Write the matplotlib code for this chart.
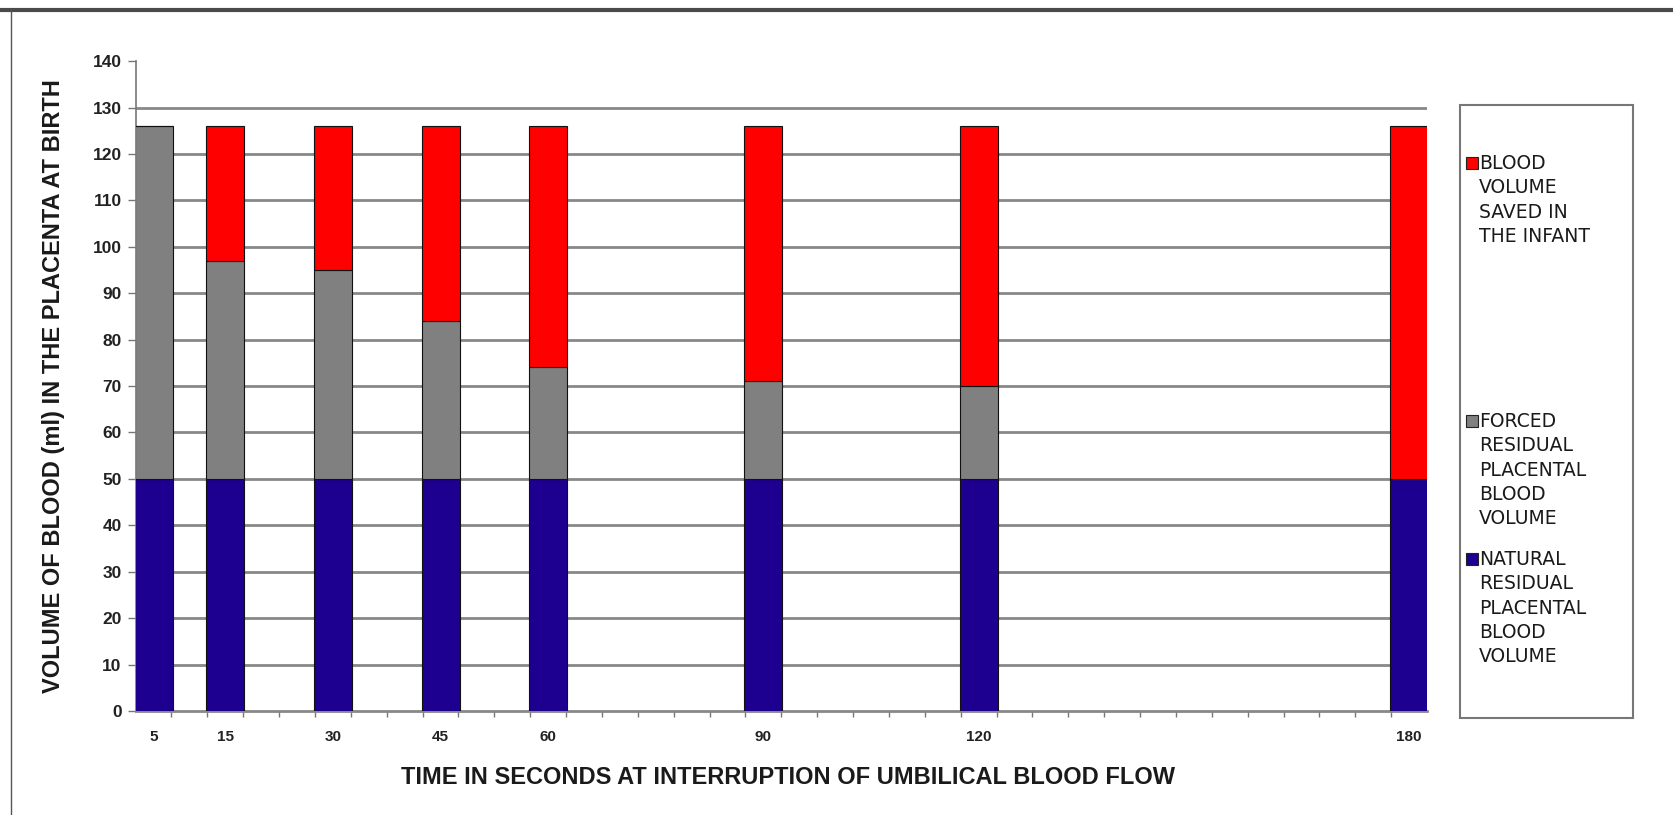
import matplotlib.pyplot as plt
import numpy as np
from matplotlib.patches import Rectangle
from matplotlib.lines import Line2D

# seconds at which the cord was clamped
times = [5, 15, 30, 45, 60, 90, 120, 180]

# stacked volumes (ml), bottom to top
natural_residual = [50, 50, 50, 50, 50, 50, 50, 50]
forced_residual = [76, 47, 45, 34, 24, 21, 20, 0]
saved_in_infant = [0, 29, 31, 42, 52, 55, 56, 76]

series_labels = [
    "BLOOD\nVOLUME\nSAVED IN\nTHE INFANT",
    "FORCED\nRESIDUAL\nPLACENTAL\nBLOOD\nVOLUME",
    "NATURAL\nRESIDUAL\nPLACENTAL\nBLOOD\nVOLUME",
]

y_ticks = list(range(0, 141, 10))

blue = "#1e0090"
gray = "#808080"
red = "#ff0000"
grid_gray = "#888888"

plt.rcParams['font.family'] = ['Liberation Sans', 'DejaVu Sans']

fig = plt.figure(figsize=(16.74, 8.15), dpi=100)
ax = fig.add_axes([0.081, 0.1276, 0.7715, 0.7974])

natural = np.array(natural_residual)
forced = np.array(forced_residual)
saved = np.array(saved_in_infant)

bar_w = 5.3
ax.bar(times, natural, width=bar_w, color=blue, edgecolor="#111111", linewidth=0.8, zorder=3)
ax.bar(times, forced, width=bar_w, bottom=natural, color=gray, edgecolor="#111111", linewidth=0.8, zorder=3)
ax.bar(times, saved, width=bar_w, bottom=natural + forced, color=red, edgecolor="#111111", linewidth=0.8, zorder=3)

ax.set_xlim(2.5, 182.5)
ax.set_ylim(0, 140)

# horizontal grid lines (none at the top of the scale)
for yv in y_ticks[1:-1]:
    ax.axhline(yv, color=grid_gray, linewidth=2.0, zorder=1)

ax.set_yticks(y_ticks)
ax.set_yticklabels([str(v) for v in y_ticks], fontsize=12.5, fontweight="bold", color="#222222")
ax.tick_params(axis="y", direction="out", length=6, width=1, color="#777777", pad=4)

ax.set_xticks(times)
ax.set_xticklabels([str(t) for t in times], fontsize=11, fontweight="bold", color="#222222")
ax.tick_params(axis="x", length=0, pad=14)
ax.set_xticks(np.arange(7.5, 182.5, 5), minor=True)
ax.tick_params(axis="x", which="minor", direction="out", length=4, width=1, color="#777777")

for side in ["top", "right"]:
    ax.spines[side].set_visible(False)
ax.spines["left"].set_color("#777777")
ax.spines["left"].set_linewidth(1.2)
ax.spines["bottom"].set_color("#888888")
ax.spines["bottom"].set_linewidth(2.0)

ax.set_xlabel("TIME IN SECONDS AT INTERRUPTION OF UMBILICAL BLOOD FLOW", fontsize=17,
              fontweight="bold", color="#1a1a1a")
ax.xaxis.set_label_coords(0.505, -0.085)
ax.set_ylabel("VOLUME OF BLOOD (ml) IN THE PLACENTA AT BIRTH", fontsize=17,
              fontweight="bold", color="#1a1a1a")
ax.yaxis.set_label_coords(-0.055, 0.5)

# legend box drawn by hand so each swatch sits on the first line of its label
W, H = 1674, 815
fig.add_artist(Rectangle((1460 / W, 1 - 718 / H), 173 / W, 613 / H, transform=fig.transFigure,
                         facecolor="white", edgecolor="#777777", linewidth=1.5))
entry_tops = [163, 421, 559]
for top, label, color in zip(entry_tops, series_labels, [red, gray, blue]):
    fig.add_artist(Rectangle((1466 / W, 1 - (top + 6) / H), 12 / W, 12 / H, transform=fig.transFigure,
                             facecolor=color, edgecolor="#222222", linewidth=0.8))
    fig.text(1479 / W, 1 - (top - 9) / H, label, fontsize=13.5, color="#1a1a1a",
             va="top", ha="left", linespacing=1.35, family=['DejaVu Sans'])

# outer frame
fig.add_artist(Line2D([0, 1], [1 - 10 / H, 1 - 10 / H], transform=fig.transFigure,
                      color="#4a4a4a", linewidth=3))
fig.add_artist(Line2D([11 / W, 11 / W], [0, 1 - 10 / H], transform=fig.transFigure,
                      color="#555555", linewidth=1))

fig.savefig("out.png", dpi=100)
